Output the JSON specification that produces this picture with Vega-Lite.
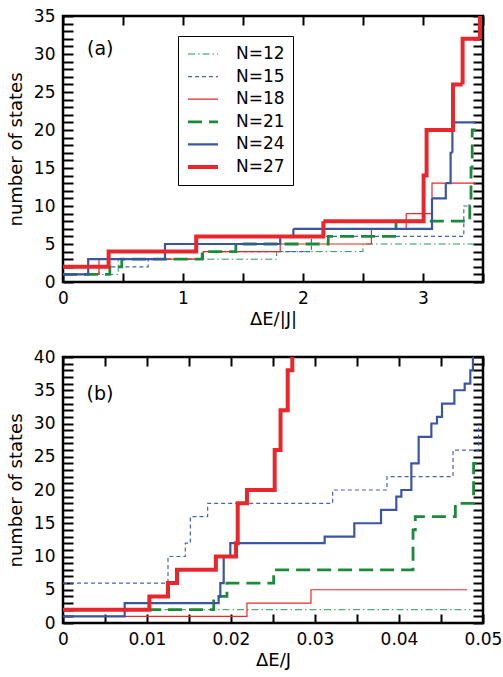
{
  "$schema": "https://vega.github.io/schema/vega-lite/v6.json",
  "padding": {"left": 6, "top": 5, "right": 0, "bottom": 2},
  "spacing": 16,
  "config": {
    "font": "DejaVu Sans",
    "view": {"stroke": "black", "strokeWidth": 2.5},
    "axis": {
      "domain": false,
      "grid": false,
      "ticks": true,
      "zindex": 1,
      "tickColor": "black",
      "tickWidth": 2,
      "labelColor": "black",
      "labelFont": "DejaVu Sans",
      "labelFontSize": 17,
      "labelOverlap": false,
      "labelFlush": false,
      "titleFont": "DejaVu Sans",
      "titleFontSize": 18,
      "titleFontWeight": "normal",
      "titleColor": "black"
    },
    "legend": {
      "labelFont": "DejaVu Sans"
    }
  },
  "resolve": {"scale": {"color": "independent", "strokeDash": "independent", "strokeWidth": "independent"}},
  "datasets": {
    "a": [
      {"N": "N=12", "x": 0, "y": 1}, {"N": "N=12", "x": 0.46, "y": 3}, {"N": "N=12", "x": 1.78, "y": 4}, {"N": "N=12", "x": 2.5, "y": 5}, {"N": "N=12", "x": 3.44, "y": 5},
      {"N": "N=15", "x": 0, "y": 1}, {"N": "N=15", "x": 0.3, "y": 2}, {"N": "N=15", "x": 0.71, "y": 3}, {"N": "N=15", "x": 1.17, "y": 4}, {"N": "N=15", "x": 2.07, "y": 6}, {"N": "N=15", "x": 3.34, "y": 10}, {"N": "N=15", "x": 3.39, "y": 10},
      {"N": "N=18", "x": 0, "y": 1}, {"N": "N=18", "x": 0.3, "y": 3}, {"N": "N=18", "x": 1.17, "y": 4}, {"N": "N=18", "x": 1.81, "y": 5}, {"N": "N=18", "x": 2.57, "y": 7}, {"N": "N=18", "x": 2.86, "y": 9}, {"N": "N=18", "x": 3.075, "y": 13}, {"N": "N=18", "x": 3.44, "y": 13},
      {"N": "N=21", "x": 0, "y": 1}, {"N": "N=21", "x": 0.39, "y": 2}, {"N": "N=21", "x": 0.49, "y": 3}, {"N": "N=21", "x": 1.16, "y": 4}, {"N": "N=21", "x": 1.44, "y": 5}, {"N": "N=21", "x": 2.21, "y": 6}, {"N": "N=21", "x": 2.775, "y": 8}, {"N": "N=21", "x": 3.39, "y": 10}, {"N": "N=21", "x": 3.4, "y": 15}, {"N": "N=21", "x": 3.41, "y": 20}, {"N": "N=21", "x": 3.44, "y": 20},
      {"N": "N=24", "x": 0, "y": 1}, {"N": "N=24", "x": 0.21, "y": 3}, {"N": "N=24", "x": 0.85, "y": 5}, {"N": "N=24", "x": 1.81, "y": 6}, {"N": "N=24", "x": 1.92, "y": 7}, {"N": "N=24", "x": 3.075, "y": 11}, {"N": "N=24", "x": 3.19, "y": 13}, {"N": "N=24", "x": 3.23, "y": 17}, {"N": "N=24", "x": 3.245, "y": 21}, {"N": "N=24", "x": 3.44, "y": 21},
      {"N": "N=27", "x": 0, "y": 2}, {"N": "N=27", "x": 0.38, "y": 4}, {"N": "N=27", "x": 1.11, "y": 6}, {"N": "N=27", "x": 2.17, "y": 8}, {"N": "N=27", "x": 3.005, "y": 14}, {"N": "N=27", "x": 3.03, "y": 20}, {"N": "N=27", "x": 3.25, "y": 26}, {"N": "N=27", "x": 3.33, "y": 32}, {"N": "N=27", "x": 3.475, "y": 40}, {"N": "N=27", "x": 3.5, "y": 40}
    ],
    "b": [
      {"N": "N=12", "x": 0, "y": 2}, {"N": "N=12", "x": 0.0485, "y": 2},
      {"N": "N=15", "x": 0, "y": 6}, {"N": "N=15", "x": 0.0125, "y": 10}, {"N": "N=15", "x": 0.01456, "y": 12}, {"N": "N=15", "x": 0.01516, "y": 16}, {"N": "N=15", "x": 0.01722, "y": 18}, {"N": "N=15", "x": 0.0321, "y": 20}, {"N": "N=15", "x": 0.03857, "y": 22}, {"N": "N=15", "x": 0.04643, "y": 26}, {"N": "N=15", "x": 0.04948, "y": 30}, {"N": "N=15", "x": 0.0497, "y": 30},
      {"N": "N=18", "x": 0, "y": 1}, {"N": "N=18", "x": 0.0219, "y": 3}, {"N": "N=18", "x": 0.02952, "y": 5}, {"N": "N=18", "x": 0.0481, "y": 5},
      {"N": "N=21", "x": 0, "y": 2}, {"N": "N=21", "x": 0.01794, "y": 4}, {"N": "N=21", "x": 0.01952, "y": 6}, {"N": "N=21", "x": 0.02508, "y": 8}, {"N": "N=21", "x": 0.04167, "y": 14}, {"N": "N=21", "x": 0.04194, "y": 16}, {"N": "N=21", "x": 0.04671, "y": 18}, {"N": "N=21", "x": 0.04888, "y": 24}, {"N": "N=21", "x": 0.0495, "y": 24},
      {"N": "N=24", "x": 0, "y": 1}, {"N": "N=24", "x": 0.00734, "y": 3}, {"N": "N=24", "x": 0.01853, "y": 4}, {"N": "N=24", "x": 0.01873, "y": 6}, {"N": "N=24", "x": 0.01913, "y": 10}, {"N": "N=24", "x": 0.01992, "y": 12}, {"N": "N=24", "x": 0.03115, "y": 13}, {"N": "N=24", "x": 0.03468, "y": 15}, {"N": "N=24", "x": 0.03786, "y": 17}, {"N": "N=24", "x": 0.03968, "y": 19}, {"N": "N=24", "x": 0.04028, "y": 20}, {"N": "N=24", "x": 0.04147, "y": 24}, {"N": "N=24", "x": 0.04234, "y": 28}, {"N": "N=24", "x": 0.04385, "y": 30}, {"N": "N=24", "x": 0.04452, "y": 31}, {"N": "N=24", "x": 0.04512, "y": 33}, {"N": "N=24", "x": 0.04659, "y": 35}, {"N": "N=24", "x": 0.04782, "y": 36}, {"N": "N=24", "x": 0.04849, "y": 38}, {"N": "N=24", "x": 0.0488, "y": 42}, {"N": "N=24", "x": 0.0495, "y": 42},
      {"N": "N=27", "x": 0, "y": 2}, {"N": "N=27", "x": 0.01028, "y": 4}, {"N": "N=27", "x": 0.0125, "y": 6}, {"N": "N=27", "x": 0.01357, "y": 8}, {"N": "N=27", "x": 0.0182, "y": 10}, {"N": "N=27", "x": 0.0206, "y": 12}, {"N": "N=27", "x": 0.0208, "y": 18}, {"N": "N=27", "x": 0.0219, "y": 20}, {"N": "N=27", "x": 0.0252, "y": 26}, {"N": "N=27", "x": 0.0259, "y": 32}, {"N": "N=27", "x": 0.02675, "y": 38}, {"N": "N=27", "x": 0.0273, "y": 42}, {"N": "N=27", "x": 0.028, "y": 42}
    ],
    "tagA": [{"tag": "(a)", "x": 0.2, "y": 30.6}],
    "tagB": [{"tag": "(b)", "x": 0.0028, "y": 34.5}]
  },
  "vconcat": [
    {
      "width": 420,
      "height": 266,
      "resolve": {"axis": {"x": "independent", "y": "independent"}},
      "layer": [
        {
          "data": {"name": "a"},
          "mark": {"type": "line", "interpolate": "step-after", "clip": true},
          "encoding": {
            "x": {
              "field": "x", "type": "quantitative",
              "scale": {"domain": [0, 3.5], "nice": false, "zero": false},
              "axis": {
                "orient": "bottom",
                "ticks": true, "tickColor": "black", "tickWidth": 2,
                "tickSize": -9,
                "values": [0, 0.5, 1, 1.5, 2, 2.5, 3, 3.5],
                "labelExpr": "datum.value % 1 === 0 ? format(datum.value, 'd') : ''",
                "labelPadding": 17,
                "title": "ΔE/|J|",
                "titlePadding": 4
              }
            },
            "y": {
              "field": "y", "type": "quantitative",
              "scale": {"domain": [0, 35], "nice": false},
              "axis": {
                "orient": "left",
                "ticks": true, "tickColor": "black", "tickWidth": 2,
                "tickSize": -10,
                "values": [0, 1, 2, 3, 4, 5, 6, 7, 8, 9, 10, 11, 12, 13, 14, 15, 16, 17, 18, 19, 20, 21, 22, 23, 24, 25, 26, 27, 28, 29, 30, 31, 32, 33, 34, 35],
                "labelExpr": "datum.value % 5 === 0 ? format(datum.value, 'd') : ''",
                "labelPadding": 18,
                "title": "number of states",
                "titlePadding": 8
              }
            },
            "color": {
              "field": "N", "type": "nominal",
              "scale": {"domain": ["N=12", "N=15", "N=18", "N=21", "N=24", "N=27"], "range": ["#2a9450", "#4a63b0", "#e8262b", "#1b8a3a", "#3b55a5", "#e8262b"]},
              "legend": {
                "title": null,
                "orient": "none",
                "legendX": 115,
                "legendY": 20,
                "symbolType": "stroke",
                "symbolSize": 900,
                "clipHeight": 20,
                "rowPadding": 2.6,
                "padding": 8,
                "labelFontSize": 17,
                "labelColor": "black",
                "labelOffset": 16,
                "strokeColor": "black",
                "fillColor": "white",
                "encode": {"legend": {"stroke": {"value": "black"}, "strokeWidth": {"value": 2}}}
              }
            },
            "strokeDash": {
              "field": "N", "type": "nominal",
              "scale": {"domain": ["N=12", "N=15", "N=18", "N=21", "N=24", "N=27"], "range": [[7, 3, 1.5, 3], [4, 3], [1, 0], [14, 7], [1, 0], [1, 0]]}
            },
            "strokeWidth": {
              "field": "N", "type": "ordinal",
              "scale": {"type": "ordinal", "domain": ["N=12", "N=15", "N=18", "N=21", "N=24", "N=27"], "range": [1, 1.2, 1.2, 2.8, 2.2, 4]}
            }
          }
        },
        {
          "data": {"name": "tagA"},
          "mark": {"type": "text", "align": "left", "baseline": "middle", "fontSize": 19, "color": "black"},
          "encoding": {
            "x": {
              "field": "x", "type": "quantitative",
              "axis": {
                "orient": "top",
                "ticks": true, "tickColor": "black", "tickWidth": 2,
                "tickSize": -9,
                "values": [0, 0.5, 1, 1.5, 2, 2.5, 3, 3.5],
                "labels": false,
                "title": null
              }
            },
            "y": {
              "field": "y", "type": "quantitative",
              "axis": {
                "orient": "right",
                "ticks": true, "tickColor": "black", "tickWidth": 2,
                "tickSize": -10,
                "values": [0, 1, 2, 3, 4, 5, 6, 7, 8, 9, 10, 11, 12, 13, 14, 15, 16, 17, 18, 19, 20, 21, 22, 23, 24, 25, 26, 27, 28, 29, 30, 31, 32, 33, 34, 35],
                "labels": false,
                "title": null
              }
            },
            "text": {"field": "tag"}
          }
        }
      ]
    },
    {
      "width": 420,
      "height": 266,
      "resolve": {"axis": {"x": "independent", "y": "independent"}},
      "layer": [
        {
          "data": {"name": "b"},
          "mark": {"type": "line", "interpolate": "step-after", "clip": true},
          "encoding": {
            "x": {
              "field": "x", "type": "quantitative",
              "scale": {"domain": [0, 0.05], "nice": false, "zero": false},
              "axis": {
                "orient": "bottom",
                "ticks": true, "tickColor": "black", "tickWidth": 2,
                "tickSize": -9,
                "values": [0, 0.005, 0.01, 0.015, 0.02, 0.025, 0.03, 0.035, 0.04, 0.045, 0.05],
                "labelExpr": "abs(datum.value * 100 - round(datum.value * 100)) < 0.000001 ? (datum.value === 0 ? '0' : format(datum.value, '.2f')) : ''",
                "labelPadding": 17,
                "title": "ΔE/J",
                "titlePadding": 4
              }
            },
            "y": {
              "field": "y", "type": "quantitative",
              "scale": {"domain": [0, 40], "nice": false},
              "axis": {
                "orient": "left",
                "ticks": true, "tickColor": "black", "tickWidth": 2,
                "tickSize": -10,
                "values": [0, 1, 2, 3, 4, 5, 6, 7, 8, 9, 10, 11, 12, 13, 14, 15, 16, 17, 18, 19, 20, 21, 22, 23, 24, 25, 26, 27, 28, 29, 30, 31, 32, 33, 34, 35, 36, 37, 38, 39, 40],
                "labelExpr": "datum.value % 5 === 0 ? format(datum.value, 'd') : ''",
                "labelPadding": 18,
                "title": "number of states",
                "titlePadding": 8
              }
            },
            "color": {
              "field": "N", "type": "nominal",
              "scale": {"domain": ["N=12", "N=15", "N=18", "N=21", "N=24", "N=27"], "range": ["#2a9450", "#4a63b0", "#e8262b", "#1b8a3a", "#3b55a5", "#e8262b"]},
              "legend": null
            },
            "strokeDash": {
              "field": "N", "type": "nominal",
              "scale": {"domain": ["N=12", "N=15", "N=18", "N=21", "N=24", "N=27"], "range": [[7, 3, 1.5, 3], [4, 3], [1, 0], [14, 7], [1, 0], [1, 0]]},
              "legend": null
            },
            "strokeWidth": {
              "field": "N", "type": "ordinal",
              "scale": {"type": "ordinal", "domain": ["N=12", "N=15", "N=18", "N=21", "N=24", "N=27"], "range": [1, 1.2, 1.2, 2.8, 2.2, 4]},
              "legend": null
            }
          }
        },
        {
          "data": {"name": "tagB"},
          "mark": {"type": "text", "align": "left", "baseline": "middle", "fontSize": 19, "color": "black"},
          "encoding": {
            "x": {
              "field": "x", "type": "quantitative",
              "axis": {
                "orient": "top",
                "ticks": true, "tickColor": "black", "tickWidth": 2,
                "tickSize": -9,
                "values": [0, 0.005, 0.01, 0.015, 0.02, 0.025, 0.03, 0.035, 0.04, 0.045, 0.05],
                "labels": false,
                "title": null
              }
            },
            "y": {
              "field": "y", "type": "quantitative",
              "axis": {
                "orient": "right",
                "ticks": true, "tickColor": "black", "tickWidth": 2,
                "tickSize": -10,
                "values": [0, 1, 2, 3, 4, 5, 6, 7, 8, 9, 10, 11, 12, 13, 14, 15, 16, 17, 18, 19, 20, 21, 22, 23, 24, 25, 26, 27, 28, 29, 30, 31, 32, 33, 34, 35, 36, 37, 38, 39, 40],
                "labels": false,
                "title": null
              }
            },
            "text": {"field": "tag"}
          }
        }
      ]
    }
  ]
}
